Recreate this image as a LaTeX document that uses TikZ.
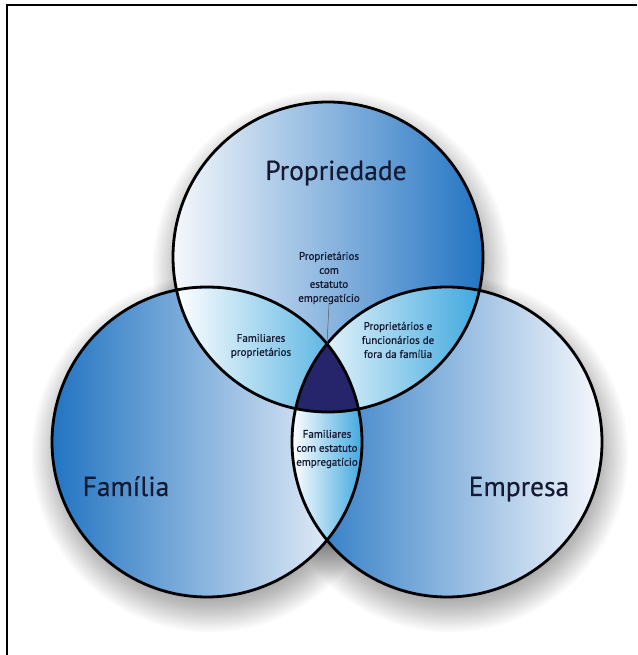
\documentclass[tikz,border=0pt]{standalone}
\usepackage{fontspec}
\setmainfont{PT Sans}
\newfontfamily\labelfont{PT Sans}[FakeBold=0.7]
\newfontfamily\titlefont{PT Sans}[FakeBold=0.4]
\usetikzlibrary{calc}

\definecolor{inkblue}{HTML}{161932}
\definecolor{deepblue}{HTML}{2274C2}
\definecolor{midblue}{HTML}{93AADA}
\definecolor{paleblue}{HTML}{F6F8FC}
\definecolor{lenscyan}{HTML}{40A9DE}
\definecolor{corenavy}{HTML}{26246B}

\tikzset{
  ring/.style={draw=black, line width=2.8pt},
  bigword/.style={font=\titlefont\fontsize{27.5}{32}\selectfont, text=inkblue, inner sep=0pt, anchor=base},
  smallword/.style={font=\labelfont\fontsize{11}{14}\selectfont, text=inkblue, inner sep=0pt, align=center},
  leader/.style={draw=black!65, line width=0.5pt}
}

\begin{document}
\begin{tikzpicture}[x=1pt,y=1pt]
\useasboundingbox (0,0) rectangle (637,655);
\fill[white] (0,0) rectangle (637,655);

% frame (top and left edges)
\draw[line width=2pt] (7,0) -- (7,650) -- (637,650);

% circle centres
\def\rad{155}
\coordinate (P) at (328,398);
\coordinate (F) at (207,213);
\coordinate (E) at (447,213);
\coordinate (core) at (327,311);

% soft drop shadows
\foreach \c in {P,F,E}{
  \foreach \i in {0,...,24}{
    \fill[black, opacity=0.016] ($(\c)+(3,-12)$) circle ({140+1.6*\i});
  }
}

% the three sets
\shade[left color=paleblue, middle color=midblue, right color=deepblue] (P) circle (\rad);
\shade[left color=deepblue, middle color=midblue, right color=paleblue] (F) circle (\rad);
\shade[left color=deepblue, middle color=midblue, right color=paleblue] (E) circle (\rad);

% pairwise overlaps
\begin{scope}
  \clip (P) circle (\rad);
  \clip (F) circle (\rad);
  \shade[left color=white, right color=lenscyan] (176,246) rectangle (358,365);
\end{scope}
\begin{scope}
  \clip (P) circle (\rad);
  \clip (E) circle (\rad);
  \shade[left color=white, right color=lenscyan] (297,246) rectangle (479,365);
\end{scope}
\begin{scope}
  \clip (F) circle (\rad);
  \clip (E) circle (\rad);
  \shade[left color=white, right color=lenscyan] (292,115) rectangle (362,311);
\end{scope}

% triple overlap
\begin{scope}
  \clip (P) circle (\rad);
  \clip (F) circle (\rad);
  \fill[corenavy] (E) circle (\rad);
\end{scope}

% outlines
\draw[ring] (P) circle (\rad);
\draw[ring] (F) circle (\rad);
\draw[ring] (E) circle (\rad);

% labels
\node[bigword] (prop) at (336,475) {Propriedade};
\node[bigword] (fam) at (126,159) {Família};
\node[bigword] (emp) at (519,159) {Empresa};

\node[smallword] (own) at (329,377) {Proprietários\\com\\estatuto\\empregatício};
\node[smallword] (famown) at (261,309) {Familiares\\proprietários};
\node[smallword] (outown) at (398,315) {Proprietários e\\funcionários de\\fora da família};
\node[smallword] (famemp) at (327,206) {Familiares\\com estatuto\\empregatício};

\draw[leader] (own.south) -- (core);
\end{tikzpicture}
\end{document}
